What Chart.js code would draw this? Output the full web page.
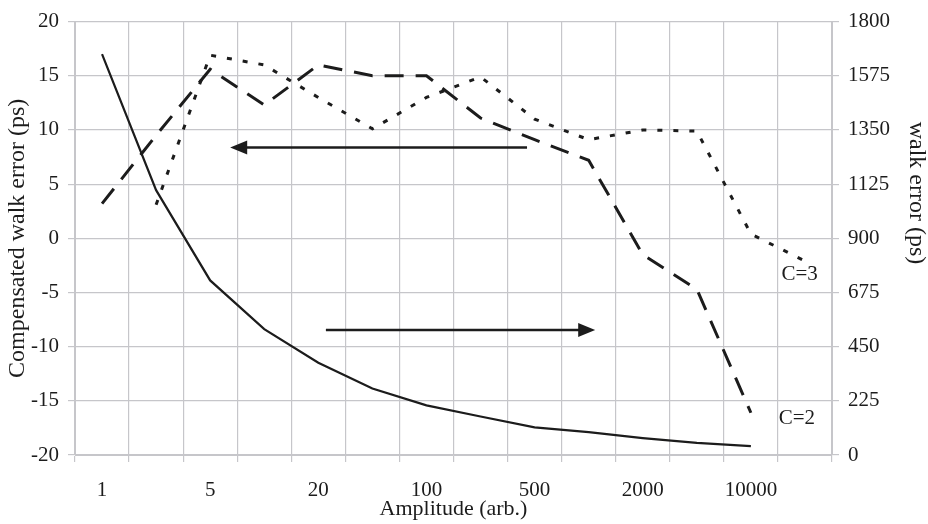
<!DOCTYPE html>
<html>
<head>
<meta charset="utf-8">
<script src="https://cdn.jsdelivr.net/npm/chart.js@4/dist/chart.umd.min.js"></script>
<style>
  body { margin: 0; background: #fff; }
  #wrap { width: 928px; height: 524px; position: relative; }
</style>
</head>
<body>
<div id="wrap"><canvas id="walkChart"></canvas></div>
<script>
// Amplitude categories (log-ish steps), only every other one is labelled
const amplitudes = ['1', '2', '5', '10', '20', '50', '100', '200', '500', '1000', '2000', '5000', '10000', '20000'];

// Uncompensated walk error (right axis, ps)
const walkError = [1665, 1100, 725, 523, 383, 276, 206, 160, 115, 95, 70, 50, 37, null];

// Compensated walk error (left axis, ps)
const compC2 = [3.2, 9.5, 15.6, 12.3, 16.0, 15.0, 15.0, 11.1, 9.1, 7.2, -1.5, -4.7, -16.1, null];
const compC3 = [null, 3.1, 16.9, 16.0, 13.0, 10.1, 13.0, 14.9, 11.0, 9.1, 10.0, 9.9, 0.4, -2.1];

// Axis ticks
const leftTicks = { min: -20, max: 20, step: 5 };
const rightTicks = { min: 0, max: 1800, step: 225 };

const ink = '#1c1c1c';
const gridColor = '#c6c6ca';
const serif = "'Liberation Serif', 'DejaVu Serif', serif";

// Arrows and curve labels, placed in data units (category index, left axis value)
const arrows = [
  { from: [7.86, 8.38], to: [2.37, 8.38] },
  { from: [4.14, -8.47], to: [9.12, -8.47] }
];
const curveLabels = [
  { text: 'C=3', at: [12.9, -3.34] },
  { text: 'C=2', at: [12.85, -16.6] }
];

const annotations = {
  id: 'annotations',
  afterDatasetsDraw(chart) {
    const { ctx, scales: { x, y } } = chart;
    ctx.save();
    ctx.strokeStyle = ink;
    ctx.fillStyle = ink;
    ctx.lineWidth = 2.5;
    arrows.forEach(a => {
      const x1 = x.getPixelForValue(a.from[0]);
      const y1 = y.getPixelForValue(a.from[1]);
      const x2 = x.getPixelForValue(a.to[0]);
      const y2 = y.getPixelForValue(a.to[1]);
      const dir = Math.sign(x2 - x1);
      ctx.beginPath();
      ctx.moveTo(x1, y1);
      ctx.lineTo(x2 - dir * 12, y2);
      ctx.stroke();
      ctx.beginPath();
      ctx.moveTo(x2, y2);
      ctx.lineTo(x2 - dir * 17, y2 - 7);
      ctx.lineTo(x2 - dir * 17, y2 + 7);
      ctx.closePath();
      ctx.fill();
    });
    ctx.font = '21px ' + serif;
    ctx.textAlign = 'center';
    ctx.textBaseline = 'middle';
    curveLabels.forEach(l => {
      ctx.fillText(l.text, x.getPixelForValue(l.at[0]), y.getPixelForValue(l.at[1]));
    });
    ctx.restore();
  },
  // right axis title sits above the axis middle in the reference
  afterDraw(chart) {
    const { ctx } = chart;
    ctx.save();
    ctx.translate(916, 193);
    ctx.rotate(Math.PI / 2);
    ctx.font = '24px ' + serif;
    ctx.fillStyle = ink;
    ctx.textAlign = 'center';
    ctx.textBaseline = 'middle';
    ctx.fillText('walk error (ps)', 0, 0);
    ctx.restore();
  }
};

function initializeWalkChart() {
  const ctx = document.getElementById('walkChart');
  if (!ctx) return;

  new Chart(ctx, {
    type: 'line',
    data: {
      labels: amplitudes,
      datasets: [
        {
          label: 'walk error',
          data: walkError,
          yAxisID: 'y1',
          borderColor: ink,
          borderWidth: 2.2
        },
        {
          label: 'C=2',
          data: compC2,
          yAxisID: 'y',
          borderColor: ink,
          borderWidth: 3,
          borderDash: [19, 12]
        },
        {
          label: 'C=3',
          data: compC3,
          yAxisID: 'y',
          borderColor: ink,
          borderWidth: 3,
          borderDash: [5, 11]
        }
      ]
    },
    options: {
      responsive: true,
      maintainAspectRatio: false,
      animation: false,
      layout: { padding: { top: 18, right: 0, left: 0, bottom: 0 } },
      elements: { point: { radius: 0 }, line: { tension: 0 } },
      plugins: {
        legend: { display: false },
        tooltip: { enabled: false }
      },
      scales: {
        x: {
          offset: true,
          grid: { offset: true, color: gridColor, tickLength: 7, lineWidth: 1.2 },
          border: { color: gridColor },
          ticks: {
            autoSkip: false,
            maxRotation: 0,
            padding: 16,
            color: ink,
            font: { family: serif, size: 21 },
            callback: (v, i) => (i % 2 === 0 ? amplitudes[i] : '')
          },
          title: {
            display: true,
            text: 'Amplitude (arb.)',
            color: ink,
            font: { family: serif, size: 22, lineHeight: 1 },
            padding: { top: 0, bottom: 4 }
          },
          afterFit: s => { s.height = 69; }
        },
        y: {
          position: 'left',
          min: leftTicks.min,
          max: leftTicks.max,
          grid: { color: gridColor, tickLength: 7, lineWidth: 1.2 },
          border: { color: gridColor },
          ticks: {
            stepSize: leftTicks.step,
            padding: 9,
            color: ink,
            font: { family: serif, size: 21 }
          },
          title: {
            display: true,
            text: 'Compensated walk error (ps)',
            color: ink,
            font: { family: serif, size: 24, lineHeight: 1 },
            padding: { top: 6, bottom: 0 }
          },
          afterFit: s => { s.width = 75; }
        },
        y1: {
          position: 'right',
          min: rightTicks.min,
          max: rightTicks.max,
          grid: { drawOnChartArea: false, color: gridColor, tickLength: 7, lineWidth: 1.2 },
          border: { color: gridColor },
          ticks: {
            stepSize: rightTicks.step,
            padding: 9,
            color: ink,
            font: { family: serif, size: 21 },
            callback: v => String(v)
          },
          afterFit: s => { s.width = 96; }
        }
      }
    },
    plugins: [annotations]
  });
}

document.addEventListener('DOMContentLoaded', () => {
  initializeWalkChart();
});
</script>
</body>
</html>
